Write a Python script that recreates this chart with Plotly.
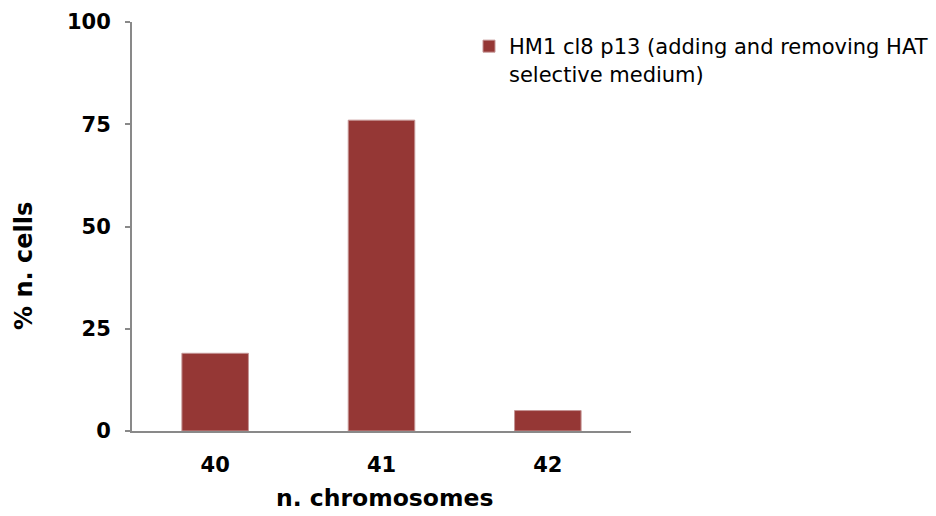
import plotly.graph_objects as go

categories = ["40", "41", "42"]
values = [19, 76, 5]
series_name = "HM1 cl8 p13 (adding and removing HAT<br>selective medium)"
y_ticks = [0, 25, 50, 75, 100]

BAR = "#953735"
AX = "#898989"
FONT = "DejaVu Sans"

fig = go.Figure()
fig.add_trace(go.Bar(
    x=categories, y=values, name=series_name,
    marker=dict(color=BAR, line=dict(color="#c49494", width=1)),
    showlegend=True,
))

fig.update_layout(
    width=936, height=516,
    margin=dict(l=132, r=305, t=22, b=85, autoexpand=False),
    paper_bgcolor="white", plot_bgcolor="white",
    bargap=0.6,
    font=dict(family=FONT, color="black"),
    showlegend=True,
    legend=dict(
        x=1.0, xanchor="left", y=1.0, yanchor="top",
        xref="paper", yref="paper",
        font=dict(family=FONT, size=21, color="black"),
        itemwidth=30, tracegroupgap=0, valign="top",
        bgcolor="rgba(0,0,0,0)",
    ),
    xaxis=dict(
        type="category", range=[-0.5, 2.5],
        showline=True, linecolor=AX, linewidth=2,
        ticks="", showgrid=False, zeroline=False,
        tickfont=dict(family=FONT, size=21, color="black", weight="bold"),
        ticklabelstandoff=14,
    ),
    yaxis=dict(
        range=[0, 100], tickvals=y_ticks,
        showline=True, linecolor=AX, linewidth=2,
        ticks="outside", ticklen=5, tickwidth=2, tickcolor=AX,
        showgrid=False, zeroline=False,
        tickfont=dict(family=FONT, size=21, color="black", weight="bold"),
        ticklabelstandoff=10,
    ),
    annotations=[
        dict(text="% n. cells", x=24, y=266, xref="paper", yref="paper",
             showarrow=False, textangle=-90,
             font=dict(family=FONT, size=24, color="black", weight="bold"),
             xanchor="center", yanchor="middle"),
        dict(text="n. chromosomes", x=384, y=498, xref="paper", yref="paper",
             showarrow=False,
             font=dict(family=FONT, size=23.5, color="black", weight="bold"),
             xanchor="center", yanchor="middle"),
    ],
)

# convert pixel positions of annotations to paper coords
pw = 936 - 132 - 305
ph = 516 - 22 - 85
for a in fig.layout.annotations:
    a.x = (a.x - 132) / pw
    a.y = (516 - 85 - a.y) / ph

# legend position in pixels
fig.layout.legend.x = (469 - 132) / pw
fig.layout.legend.y = (516 - 85 - 26) / ph

fig.write_html("out.html")
